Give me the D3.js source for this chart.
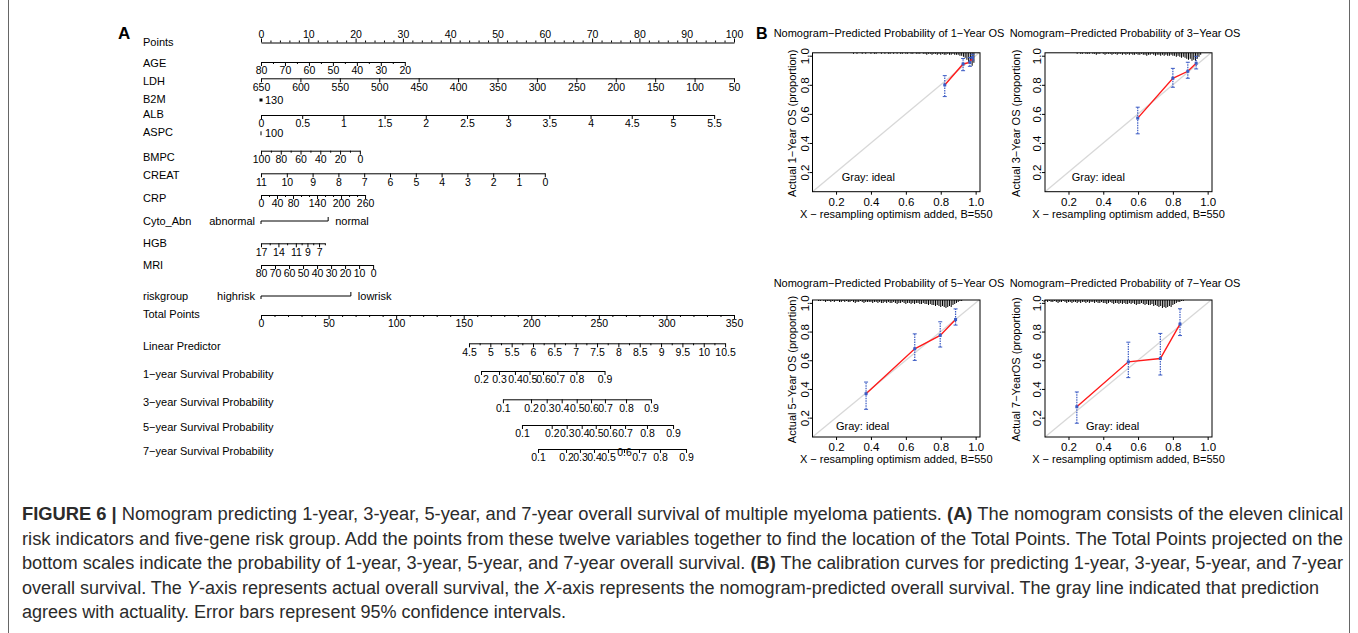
<!DOCTYPE html>
<html>
<head>
<meta charset="utf-8">
<script src="https://cdn.jsdelivr.net/npm/d3@7"></script>
<style>
  body { margin: 0; background: #fff; }
  svg { display: block; }
</style>
</head>
<body>
<svg id="fig" width="1358" height="633"></svg>
<script>
// ---------- panel A: nomogram scales ----------
const pointsLabels = [0, 10, 20, 30, 40, 50, 60, 70, 80, 90, 100];

// each continuous variable: end values and the points they score
const ageEnds = [80, 20], agePoints = [0, 30.4];
const ageLabels = [80, 70, 60, 50, 40, 30, 20];
const ageMinor = [75, 65, 55, 45, 35, 25];

const ldhEnds = [650, 50], ldhPoints = [0, 100];
const ldhLabels = [650, 600, 550, 500, 450, 400, 350, 300, 250, 200, 150, 100, 50];

const b2mValue = "130", b2mPoints = 0;

const albEnds = [0, 5.5], albPoints = [0, 95.8];
const albLabels = [0, 0.5, 1, 1.5, 2, 2.5, 3, 3.5, 4, 4.5, 5, 5.5];

const aspcValue = "100", aspcPoints = 0;

const bmpcEnds = [100, 0], bmpcPoints = [0, 20.9];
const bmpcLabels = [100, 80, 60, 40, 20, 0];
const bmpcMinor = [90, 70, 50, 30, 10];

const creatEnds = [11, 0], creatPoints = [0, 60];
const creatLabels = [11, 10, 9, 8, 7, 6, 5, 4, 3, 2, 1, 0];

const crpEnds = [0, 260], crpPoints = [0, 22];
const crpLabels = [0, 40, 80, 140, 200, 260];
const crpMinor = [20, 60, 100, 120, 160, 180, 220, 240];

const cytoLevels = ["abnormal", "normal"], cytoPoints = [0, 14.2];

const hgbEnds = [17, 6], hgbPoints = [0, 13.5];
const hgbLabels = [17, 14, 11, 9, 7];
const hgbMinor = [15.5, 12.5, 10, 8, 6];

const mriEnds = [80, 0], mriPoints = [0, 23.7];
const mriLabels = [80, 70, 60, 50, 40, 30, 20, 10, 0];

const riskLevels = ["highrisk", "lowrisk"], riskPoints = [0, 19];

const totalLabels = [0, 50, 100, 150, 200, 250, 300, 350];

const lpEnds = [4.5, 10.5], lpTotal = [153.9, 343.4];
const lpLabels = [4.5, 5, 5.5, 6, 6.5, 7, 7.5, 8, 8.5, 9, 9.5, 10, 10.5];
const lpMinor = [4.75, 5.25, 5.75, 6.25, 6.75, 7.25, 7.75, 8.25, 8.75, 9.25, 9.75, 10.25];

// survival probabilities and the total points where they sit
const s1Probs = [0.2, 0.3, 0.4, 0.5, 0.6, 0.7, 0.8, 0.9];
const s1Total = [162.8, 176.1, 187.9, 198.7, 208.7, 219.3, 233.4, 254.2];
const s3Probs = [0.1, 0.2, 0.3, 0.4, 0.5, 0.6, 0.7, 0.8, 0.9];
const s3Total = [179.0, 199.8, 211.4, 222.5, 233.6, 244.2, 254.5, 270.1, 288.6];
const s5Probs = [0.1, 0.2, 0.3, 0.4, 0.5, 0.6, 0.7, 0.8, 0.9];
const s5Total = [193.1, 215.1, 226.2, 237.3, 247.7, 258.3, 269.4, 285.6, 304.9];
const s7Probs = [0.1, 0.2, 0.3, 0.4, 0.5, 0.6, 0.7, 0.8, 0.9];
const s7Total = [205.0, 225.7, 236.0, 246.4, 256.8, 268.6, 279.7, 295.2, 314.5];

// ---------- panel B: calibration curves ----------
const calTicks = [0.2, 0.4, 0.6, 0.8, 1.0];
const calXlim = [0.065, 1.025];
const calYlim = [0.065, 1.02];

const cal1Pred = [0.823, 0.928, 0.967, 0.982];
const cal1Obs  = [0.799, 0.943, 0.954, 0.988];
const cal1Lo   = [0.719, 0.897, 0.927, 0.970];
const cal1Hi   = [0.863, 0.981, 0.988, 1.010];

const cal3Pred = [0.598, 0.800, 0.886, 0.934];
const cal3Obs  = [0.571, 0.845, 0.893, 0.948];
const cal3Lo   = [0.463, 0.783, 0.845, 0.909];
const cal3Hi   = [0.646, 0.913, 0.955, 0.996];

const cal5Pred = [0.372, 0.651, 0.797, 0.885];
const cal5Obs  = [0.367, 0.680, 0.773, 0.884];
const cal5Lo   = [0.258, 0.599, 0.692, 0.845];
const cal5Hi   = [0.448, 0.784, 0.868, 0.958];

const cal7Pred = [0.248, 0.544, 0.728, 0.841];
const cal7Obs  = [0.276, 0.589, 0.612, 0.852];
const cal7Lo   = [0.161, 0.479, 0.497, 0.772];
const cal7Hi   = [0.379, 0.726, 0.787, 0.959];

// distribution of predicted risk (spikes at the top), bins of 0.01
const rug1Start = 0.30;
const rug1Counts = [1,0,1,0,0,1,0,1,0,0,1,0,1,1,0,0,1,0,1,0,1,1,0,1,0,1,0,1,1,0,1,1,0,1,1,0,1,1,1,0,
  1,1,2,1,1,2,1,1,2,1,2,1,2,2,1,2,2,1,2,2, 2,3,3,4,5,7,9,11,13,10];
const rug3Start = 0.25;
const rug3Counts = [1,0,1,1,0,1,1,1,0,1,1,2,1,1,0,1,2,1,1,1,2,1,1,2,1,1,2,1,2,1,
  2,1,2,2,1,2,2,1,2,2,3,2,2,1,2,3,2,2,3,2,3,2,3,3,2, 3,3,4,3,4,5,4,5,6,7,6,8,7,8,6,4,2];
const rug5Start = 0.10;
const rug5Counts = [1,1,0,1,2,1,1,2,1,2,1,1,2,2,1,2,1,2,2,1,2,3,2,2,1,2,3,2,2,2,
  2,3,2,2,3,2,3,3,2,3,2,3,3,2,3,4,3,3,2,3,4,3,3,4,3,4,3,3,4,4,
  3,4,4,5,4,5,5,6,5,6,7,6,7,8,7,6,7,5,4,3,2,1,1];
const rug7Start = 0.05;
const rug7Counts = [1,2,1,2,1,2,2,1,2,3,2,2,1,2,3,2,2,3,2,2,3,2,3,2,2,3,2,3,2,2,
  3,2,3,3,2,3,3,4,3,2,3,4,3,3,4,3,4,3,4,4,3,4,3,4,5,4,4,3,4,5,
  4,5,5,4,6,5,6,7,6,8,7,8,7,6,7,5,4,3,2,2,1,1];

const calTitles = ["Nomogram\u2212Predicted Probability of 1\u2212Year OS",
  "Nomogram\u2212Predicted Probability of 3\u2212Year OS",
  "Nomogram\u2212Predicted Probability of 5\u2212Year OS",
  "Nomogram\u2212Predicted Probability of 7\u2212Year OS"];
const calYlabels = ["Actual 1\u2212Year OS (proportion)", "Actual 3\u2212Year OS (proportion)",
  "Actual 5\u2212Year OS (proportion)", "Actual 7\u2212YearOS (proportion)"];
const calXlabel = "X \u2212 resampling optimism added, B=550";

// ---------- caption ----------
const captionLines = [
  [["FIGURE 6 | ", "b"], ["Nomogram predicting 1-year, 3-year, 5-year, and 7-year overall survival of multiple myeloma patients. ", ""], ["(A)", "b"], [" The nomogram consists of the eleven clinical", ""]],
  [["risk indicators and five-gene risk group. Add the points from these twelve variables together to find the location of the Total Points. The Total Points projected on the", ""]],
  [["bottom scales indicate the probability of 1-year, 3-year, 5-year, and 7-year overall survival. ", ""], ["(B)", "b"], [" The calibration curves for predicting 1-year, 3-year, 5-year, and 7-year", ""]],
  [["overall survival. The ", ""], ["Y", "i"], ["-axis represents actual overall survival, the ", ""], ["X", "i"], ["-axis represents the nomogram-predicted overall survival. The gray line indicated that prediction", ""]],
  [["agrees with actuality. Error bars represent 95% confidence intervals.", ""]]
];

// ================= drawing =================
const FONT = "'Liberation Sans', Arial, Helvetica, sans-serif";
const svg = d3.select("#fig").attr("font-family", FONT);

// figure frame sides
svg.append("line").attr("x1", 8.5).attr("x2", 8.5).attr("y1", 0).attr("y2", 633).attr("stroke", "#666");
svg.append("line").attr("x1", 1349.5).attr("x2", 1349.5).attr("y1", 0).attr("y2", 633).attr("stroke", "#666");

svg.append("text").attr("x", 118).attr("y", 39).attr("font-size", 17).attr("font-weight", "bold").text("A");
svg.append("text").attr("x", 756).attr("y", 39).attr("font-size", 16).attr("font-weight", "bold").text("B");

const pts = d3.scaleLinear().domain([0, 100]).range([261, 734]);
const tot = d3.scaleLinear().domain([0, 350]).range([261, 734]);
const A = svg.append("g");

function nameLabel(text, y) {
  A.append("text").attr("x", 143).attr("y", y).attr("dy", "0.35em")
    .attr("font-size", 11).text(text);
}

function styleAxis(g) {
  g.attr("font-family", FONT).attr("font-size", 10.5);
  g.selectAll("path, line").attr("stroke", "#000").attr("stroke-width", 1);
  g.selectAll("text").attr("fill", "#000");
}

function rowAxis(scale, y, labels, minor, top) {
  const mk = top ? d3.axisTop : d3.axisBottom;
  const g = A.append("g").attr("transform", `translate(0,${y})`)
    .call(mk(scale).tickValues(labels).tickSize(4).tickSizeOuter(0).tickPadding(1).tickFormat(d => d));
  styleAxis(g);
  if (minor && minor.length) {
    const m = A.append("g").attr("transform", `translate(0,${y})`)
      .call(mk(scale).tickValues(minor).tickSize(2).tickFormat(""));
    m.select(".domain").remove();
    styleAxis(m);
  }
  return g;
}

function contScale(ends, points) {
  return d3.scaleLinear().domain(ends).range(points.map(pts));
}

function catRow(levels, points, y) {
  const x0 = pts(points[0]), x1 = pts(points[1]);
  A.append("path").attr("fill", "none").attr("stroke", "#000")
    .attr("d", `M${x0},${y + 3}V${y}H${x1}V${y - 4}`);
  A.append("text").attr("x", x0 - 6).attr("y", y).attr("dy", "0.35em")
    .attr("text-anchor", "end").attr("font-size", 11).text(levels[0]);
  A.append("text").attr("x", x1 + 7).attr("y", y).attr("dy", "0.35em")
    .attr("font-size", 11).text(levels[1]);
}

function singleRow(value, points, y, square) {
  const x0 = pts(points);
  if (square) A.append("rect").attr("x", x0 - 1.5).attr("y", y - 1.5).attr("width", 3).attr("height", 3);
  else A.append("line").attr("x1", x0).attr("x2", x0).attr("y1", y - 2).attr("y2", y + 2).attr("stroke", "#000");
  A.append("text").attr("x", x0 + 4).attr("y", y).attr("dy", "0.35em").attr("font-size", 11).text(value);
}

// Points
nameLabel("Points", 42.5);
rowAxis(pts, 42.5, pointsLabels, pts.ticks(50).filter(d => d % 10 !== 0), true);

nameLabel("AGE", 63);
rowAxis(contScale(ageEnds, agePoints), 62, ageLabels, ageMinor);
nameLabel("LDH", 81.5);
rowAxis(contScale(ldhEnds, ldhPoints), 78.3, ldhLabels);
nameLabel("B2M", 99.3);
singleRow(b2mValue, b2mPoints, 100, true);
nameLabel("ALB", 114.3);
rowAxis(contScale(albEnds, albPoints), 115, albLabels);
nameLabel("ASPC", 132);
singleRow(aspcValue, aspcPoints, 133.3, false);
nameLabel("BMPC", 157.3);
rowAxis(contScale(bmpcEnds, bmpcPoints), 150.7, bmpcLabels, bmpcMinor);
nameLabel("CREAT", 175);
rowAxis(contScale(creatEnds, creatPoints), 173.3, creatLabels);
nameLabel("CRP", 198.3);
rowAxis(contScale(crpEnds, crpPoints), 195, crpLabels, crpMinor);
nameLabel("Cyto_Abn", 221.5);
catRow(cytoLevels, cytoPoints, 221);
nameLabel("HGB", 243.3);
rowAxis(contScale(hgbEnds, hgbPoints), 243.3, hgbLabels, hgbMinor);
nameLabel("MRI", 265);
rowAxis(contScale(mriEnds, mriPoints), 265, mriLabels);
nameLabel("riskgroup", 296);
catRow(riskLevels, riskPoints, 296);

nameLabel("Total Points", 314);
rowAxis(tot, 315, totalLabels, tot.ticks(35).filter(d => d % 50 !== 0));

nameLabel("Linear Predictor", 346.5);
rowAxis(d3.scaleLinear().domain(lpEnds).range(lpTotal.map(tot)), 343.3, lpLabels, lpMinor);

nameLabel("1\u2212year Survival Probability", 374);
rowAxis(d3.scaleLinear().domain(s1Probs).range(s1Total.map(tot)), 371, s1Probs);
nameLabel("3\u2212year Survival Probability", 402);
rowAxis(d3.scaleLinear().domain(s3Probs).range(s3Total.map(tot)), 399.3, s3Probs);
nameLabel("5\u2212year Survival Probability", 426.7);
rowAxis(d3.scaleLinear().domain(s5Probs).range(s5Total.map(tot)), 425, s5Probs);
nameLabel("7\u2212year Survival Probability", 451);
const s7g = rowAxis(d3.scaleLinear().domain(s7Probs).range(s7Total.map(tot)), 449, s7Probs);
// the crowded 0.6 label is lifted above its neighbours
s7g.selectAll(".tick text").filter(d => d === 0.6).attr("y", 0);

// ---------- calibration panels ----------
const calBoxes = [
  { left: 812.5, right: 980, top: 52.8, bottom: 191.7, titleX: 889, titleY: 37, ylabX: 792, legX: 841.7, legY: 176.7 },
  { left: 1045, right: 1212, top: 52.8, bottom: 191.7, titleX: 1125, titleY: 37, ylabX: 1016, legX: 1071.7, legY: 177.3 },
  { left: 812.5, right: 980, top: 300, bottom: 437, titleX: 889, titleY: 287, ylabX: 792, legX: 836, legY: 426 },
  { left: 1045, right: 1212, top: 300, bottom: 437, titleX: 1125, titleY: 287, ylabX: 1016, legX: 1086, legY: 426 }
];
const calData = [
  [cal1Pred, cal1Obs, cal1Lo, cal1Hi, rug1Start, rug1Counts],
  [cal3Pred, cal3Obs, cal3Lo, cal3Hi, rug3Start, rug3Counts],
  [cal5Pred, cal5Obs, cal5Lo, cal5Hi, rug5Start, rug5Counts],
  [cal7Pred, cal7Obs, cal7Lo, cal7Hi, rug7Start, rug7Counts]
];
const rugH = d3.scaleLinear().domain([0, 10]).range([0, 10]);
const BLUE = "#3b5bc4";

calBoxes.forEach((b, i) => {
  const [pred, obs, lo, hi, rStart, rCounts] = calData[i];
  const x = d3.scaleLinear().domain(calXlim).range([b.left, b.right]);
  const y = d3.scaleLinear().domain(calYlim).range([b.bottom, b.top]);
  const g = svg.append("g");

  // ideal line
  const v0 = Math.max(calXlim[0], calYlim[0]), v1 = Math.min(calXlim[1], calYlim[1]);
  g.append("line").attr("x1", x(v0)).attr("y1", y(v0)).attr("x2", x(v1)).attr("y2", y(v1))
    .attr("stroke", "#d8d8d8").attr("stroke-width", 1.3);

  // risk distribution spikes
  g.append("g").selectAll("line").data(rCounts).join("line")
    .attr("x1", (d, k) => x(rStart + k * 0.01)).attr("x2", (d, k) => x(rStart + k * 0.01))
    .attr("y1", b.top).attr("y2", d => b.top + rugH(d))
    .attr("stroke", "#000").attr("stroke-width", 1);

  // error bars
  const eb = g.append("g").attr("stroke", BLUE);
  pred.forEach((p, k) => {
    eb.append("line").attr("x1", x(p)).attr("x2", x(p)).attr("y1", y(lo[k])).attr("y2", y(hi[k]))
      .attr("stroke-dasharray", "1.5,1").attr("stroke-width", 1.2);
    [lo[k], hi[k]].forEach(v => eb.append("line").attr("x1", x(p) - 2).attr("x2", x(p) + 2)
      .attr("y1", y(v)).attr("y2", y(v)).attr("stroke-width", 1));
  });

  // apparent calibration line
  g.append("path").datum(pred.map((p, k) => [p, obs[k]]))
    .attr("fill", "none").attr("stroke", "#ff1a1a").attr("stroke-width", 1.4)
    .attr("d", d3.line().x(d => x(d[0])).y(d => y(d[1])));

  g.append("g").selectAll("rect").data(pred).join("rect")
    .attr("x", d => x(d) - 1.5).attr("y", (d, k) => y(obs[k]) - 1.5)
    .attr("width", 3).attr("height", 3).attr("fill", BLUE);

  // box
  g.append("rect").attr("x", b.left).attr("y", b.top)
    .attr("width", b.right - b.left).attr("height", b.bottom - b.top)
    .attr("fill", "none").attr("stroke", "#000");

  // axes
  const ax = g.append("g").attr("transform", `translate(0,${b.bottom})`)
    .call(d3.axisBottom(x).tickValues(calTicks).tickSize(3).tickPadding(3).tickFormat(d3.format(".1f")));
  ax.select(".domain").remove();
  const ay = g.append("g").attr("transform", `translate(${b.left},0)`)
    .call(d3.axisLeft(y).tickValues(calTicks).tickSize(3).tickFormat(d3.format(".1f")));
  ay.select(".domain").remove();
  ay.selectAll(".tick text").attr("x", 0).attr("y", -4).attr("dy", 0)
    .attr("text-anchor", "middle").attr("transform", "rotate(-90)");
  [ax, ay].forEach(a => {
    a.attr("font-family", FONT).attr("font-size", 11.5);
    a.selectAll("line").attr("stroke", "#000");
    a.selectAll("text").attr("fill", "#000");
  });

  g.append("text").attr("x", b.titleX).attr("y", b.titleY).attr("text-anchor", "middle")
    .attr("font-size", 11).text(calTitles[i]);
  g.append("text").attr("x", (b.left + b.right) / 2).attr("y", b.bottom + 26)
    .attr("text-anchor", "middle").attr("font-size", 11).text(calXlabel);
  g.append("text").attr("transform", `translate(${b.ylabX},${(b.top + b.bottom) / 2 + 1}) rotate(-90)`)
    .attr("dy", "0.35em").attr("text-anchor", "middle").attr("font-size", 11).text(calYlabels[i]);
  g.append("text").attr("x", b.legX).attr("y", b.legY).attr("dy", "0.35em")
    .attr("font-size", 11).text("Gray: ideal");
});

// ---------- caption ----------
const capWidths = [1321, 1321, 1321, 1297, 544];
const cap = svg.append("g").attr("font-family", "'Liberation Sans Narrow', 'Liberation Sans', Arial, sans-serif")
  .attr("font-size", 18).attr("fill", "#2b2b2b");
captionLines.forEach((segs, i) => {
  const t = cap.append("text").attr("x", 22).attr("y", 520 + i * 24.5)
    .attr("textLength", capWidths[i]).attr("lengthAdjust", "spacingAndGlyphs");
  segs.forEach(([s, st]) => {
    const ts = t.append("tspan").text(s);
    if (st === "b") ts.attr("font-weight", "bold");
    if (st === "i") ts.attr("font-style", "italic");
  });
});
</script>
</body>
</html>
